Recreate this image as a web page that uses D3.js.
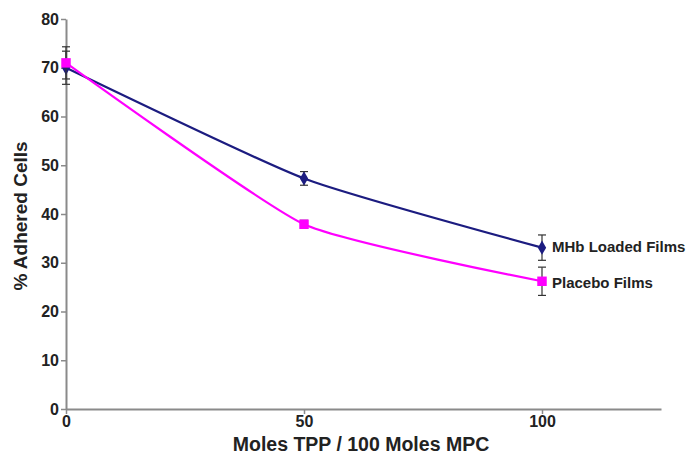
<html>
<script src="https://cdnjs.cloudflare.com/ajax/libs/d3/7.8.5/d3.min.js"></script>
<style>
body { margin:0; background:#fff; }
text { font-family: "Liberation Sans", Arial, sans-serif; font-weight: bold; }
</style>
<body>
<svg width=688 height=460></svg>
<script>
// data
var molesTPP = [0, 50, 100];
var mhbVals = [70, 47.3, 33.1];
var mhbErr = [3.4, 1.4, 2.6];
var placeboVals = [71, 37.9, 26.2];
var placeboErr = [3.3, 0.8, 2.9];
var xTicks = [0, 50, 100];
var yTicks = [0, 10, 20, 30, 40, 50, 60, 70, 80];

var svg = d3.select("svg");

var x = d3.scaleLinear().domain([0, 125]).range([66, 661]);
var y = d3.scaleLinear().domain([0, 80]).range([409, 19]);

//axes
var yAxis = svg.append("g")
  .attr("transform", "translate(" + x(0) + ",0)")
  .call(d3.axisLeft(y).tickValues(yTicks).tickSize(5).tickSizeOuter(0).tickPadding(2));
var xAxis = svg.append("g")
  .attr("transform", "translate(0," + y(0) + ")")
  .call(d3.axisBottom(x).tickValues(xTicks).tickSize(5).tickSizeOuter(0).tickPadding(2));

[xAxis, yAxis].forEach(function(a) {
  a.select(".domain").attr("stroke", "#8a8a8a").attr("stroke-width", 2);
  a.selectAll(".tick line").attr("stroke", "#8a8a8a").attr("stroke-width", 1.5);
  a.selectAll(".tick text").attr("fill", "#222").style("font-size", "16px").style("font-weight", "bold");
});

//axis titles
svg.append("text")
  .attr("x", 361).attr("y", 451)
  .attr("text-anchor", "middle")
  .attr("font-size", "19.5px")
  .attr("fill", "#222")
  .text("Moles TPP / 100 Moles MPC");

svg.append("text")
  .attr("transform", "translate(27,216) rotate(-90)")
  .attr("text-anchor", "middle")
  .attr("font-size", "19px")
  .attr("fill", "#222")
  .text("% Adhered Cells");

function drawSeries(vals, errs, color, shape) {
  var pts = molesTPP.map(function(m, i) { return [m, vals[i], errs[i]]; });
  var line = d3.line()
    .x(function(d) { return x(d[0]); })
    .y(function(d) { return y(d[1]); })
    .curve(d3.curveCardinal.tension(0.5));
  svg.append("path")
    .datum(pts)
    .attr("d", line)
    .attr("fill", "none")
    .attr("stroke", color)
    .attr("stroke-width", 2.2);

  //error bars
  var eb = svg.append("g").attr("stroke", "#333").attr("stroke-width", 1.2);
  eb.selectAll(".v").data(pts).enter().append("line")
    .attr("x1", function(d) { return x(d[0]); })
    .attr("x2", function(d) { return x(d[0]); })
    .attr("y1", function(d) { return y(d[1] + d[2]); })
    .attr("y2", function(d) { return y(d[1] - d[2]); });
  [1, -1].forEach(function(s) {
    eb.selectAll(".c" + s).data(pts).enter().append("line")
      .attr("x1", function(d) { return x(d[0]) - 4; })
      .attr("x2", function(d) { return x(d[0]) + 4; })
      .attr("y1", function(d) { return y(d[1] + s * d[2]); })
      .attr("y2", function(d) { return y(d[1] + s * d[2]); });
  });

  svg.selectAll(".m" + shape).data(pts).enter().append("path")
    .attr("transform", function(d) { return "translate(" + x(d[0]) + "," + y(d[1]) + ")"; })
    .attr("d", d3.symbol().type(shape == "sq" ? d3.symbolSquare : d3.symbolDiamond).size(shape == "sq" ? 90 : 60))
    .attr("fill", color);
}

drawSeries(mhbVals, mhbErr, "#1c1c80", "di");
drawSeries(placeboVals, placeboErr, "#ff00ff", "sq");

svg.append("text")
  .attr("x", 552).attr("y", 252)
  .attr("font-size", "15px").attr("fill", "#222")
  .text("MHb Loaded Films");
svg.append("text")
  .attr("x", 552).attr("y", 288)
  .attr("font-size", "15px").attr("fill", "#222")
  .text("Placebo Films");
</script>
</body>
</html>
